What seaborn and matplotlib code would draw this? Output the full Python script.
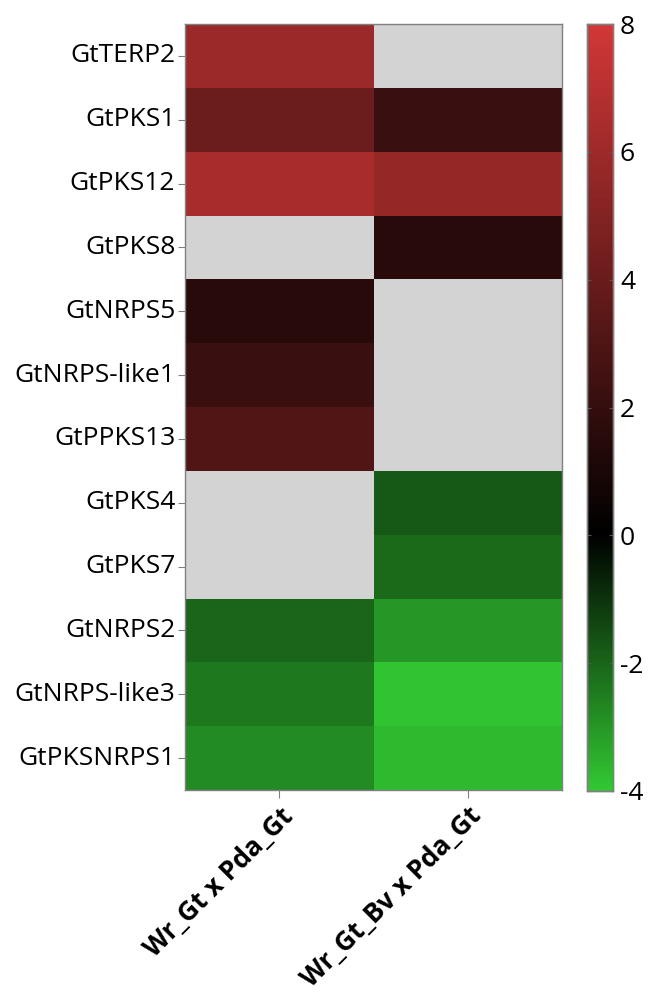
import numpy as np
import pandas as pd
import matplotlib
matplotlib.use("Agg")
import matplotlib.pyplot as plt
import seaborn as sns
from matplotlib.colors import LinearSegmentedColormap

genes = ["GtTERP2", "GtPKS1", "GtPKS12", "GtPKS8", "GtNRPS5", "GtNRPS-like1",
         "GtPPKS13", "GtPKS4", "GtPKS7", "GtNRPS2", "GtNRPS-like3", "GtPKSNRPS1"]
conditions = ["Wr_Gt x Pda_Gt", "Wr_Gt_Bv x Pda_Gt"]
wr_gt = [5.9, 4.1, 6.4, np.nan, 1.5, 2.2, 3.1, np.nan, np.nan, -2.0, -2.36, -2.76]
wr_gt_bv = [np.nan, 2.2, 5.7, 1.5, np.nan, np.nan, np.nan, -1.76, -2.1, -3.0, -3.9, -3.7]
cbar_ticks = [-4, -2, 0, 2, 4, 6, 8]

df = pd.DataFrame({conditions[0]: wr_gt, conditions[1]: wr_gt_bv}, index=genes)

cmap = LinearSegmentedColormap.from_list(
    "gkr", [(0.0, "#32c832"), (4/12, "#000000"), (1.0, "#d23737")])
cmap.set_bad("#d3d3d3")

plt.rcParams['font.family'] = ['Open Sans', 'DejaVu Sans']

fig = plt.figure(figsize=(6.49, 9.92), dpi=100)
ax = fig.add_axes([185/649, 1-790/992, (562-185)/649, (790-24)/992])
cax = fig.add_axes([587/649, 1-791/992, (613-587)/649, (791-24)/992])

sns.heatmap(df, ax=ax, cbar_ax=cax, cmap=cmap, vmin=-4, vmax=8,
            cbar_kws={"ticks": cbar_ticks})
ax.set_facecolor("#d3d3d3")
for s in ax.spines.values():
    s.set_visible(True)
    s.set_color("#808080")
    s.set_linewidth(1)

ax.tick_params(axis='y', length=5, color="#808080", labelsize=19, pad=2)
ax.tick_params(axis='x', length=6, color="#808080", labelsize=19, pad=3)
ax.set_yticklabels(genes, rotation=0)
ax.set_xticklabels(conditions, rotation=45, ha='right', rotation_mode='anchor',
                   fontweight='bold')
ax.set_xlabel("")
ax.set_ylabel("")

cax.tick_params(labelsize=19, direction='in', length=3, left=True, right=True,
                color="#555555", pad=5)
cax.set_yticklabels([str(t) for t in cbar_ticks])
for s in cax.spines.values():
    s.set_visible(True)
    s.set_color("#808080")
    s.set_linewidth(1)

fig.savefig("out.png", dpi=100)
